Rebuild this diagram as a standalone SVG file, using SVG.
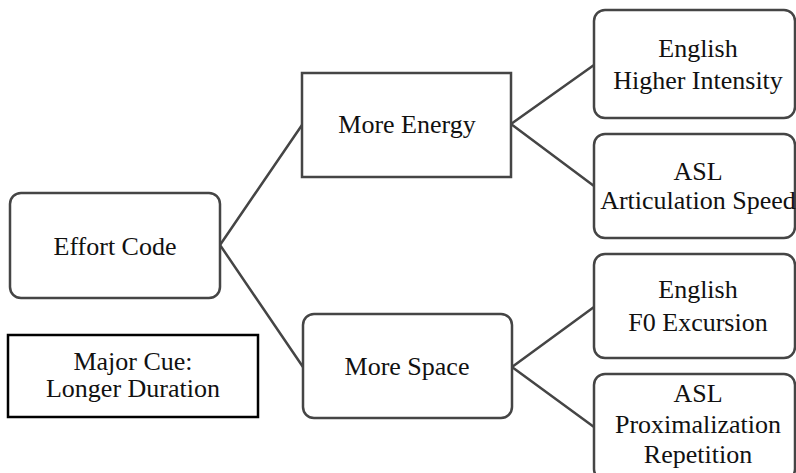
<svg xmlns="http://www.w3.org/2000/svg" width="796" height="473" viewBox="0 0 796 473" font-family="'Liberation Serif', 'DejaVu Serif', 'Times New Roman', Times, serif">
<style>
.box{fill:#fff;stroke:#454545;stroke-width:2.5}
.key{fill:#fff;stroke:#000;stroke-width:2.5}
.edge{fill:none;stroke:#454545;stroke-width:2.5}
text{font-size:26px;fill:#111;text-anchor:middle}
</style>
<rect width="796" height="473" fill="#fff"/>
<g id="connectors">
<path class="edge" d="M220,245 L302,125 M220,245 L303,367"/>
<path class="edge" d="M511,124 L594,65 M511,124 L594,186"/>
<path class="edge" d="M512,367 L594,307 M512,367 L594,427"/>
</g>
<g id="effort-code">
<rect class="box" x="10" y="193" width="210" height="105" rx="11"/>
<text x="115" y="255">Effort Code</text>
</g>
<g id="major-cue">
<rect class="key" x="8" y="335" width="250" height="82"/>
<text x="133" y="370">Major Cue:</text>
<text x="133" y="397">Longer Duration</text>
</g>
<g id="more-energy">
<rect class="box" x="302" y="73" width="209" height="104"/>
<text x="407" y="133">More Energy</text>
</g>
<g id="more-space">
<rect class="box" x="303" y="314" width="209" height="104" rx="11"/>
<text x="407" y="375">More Space</text>
</g>
<g id="english-intensity">
<rect class="box" x="594" y="10" width="201" height="108" rx="11"/>
<text x="698" y="57">English</text>
<text x="698" y="89">Higher Intensity</text>
</g>
<g id="asl-speed">
<rect class="box" x="594" y="134" width="201" height="104" rx="11"/>
<text x="698" y="180">ASL</text>
<text x="698" y="209">Articulation Speed</text>
</g>
<g id="english-f0">
<rect class="box" x="594" y="254" width="201" height="104" rx="11"/>
<text x="698" y="298">English</text>
<text x="698" y="331">F0 Excursion</text>
</g>
<g id="asl-proximalization">
<rect class="box" x="594" y="374" width="201" height="106" rx="11"/>
<text x="698" y="402">ASL</text>
<text x="698" y="433">Proximalization</text>
<text x="698" y="463">Repetition</text>
</g>
</svg>
